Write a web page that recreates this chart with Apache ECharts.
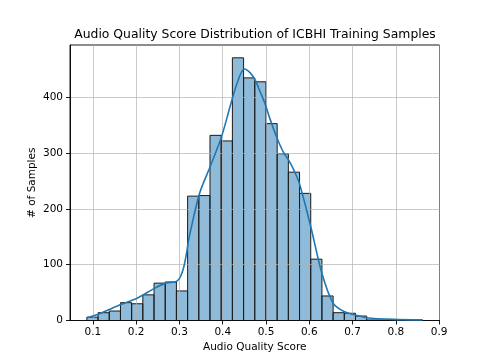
<!DOCTYPE html>
<html>
<head>
<meta charset="utf-8">
<script src="https://cdn.jsdelivr.net/npm/echarts@6/dist/echarts.min.js"></script>
<style>html,body{margin:0;padding:0;background:#fff}#c{width:482px;height:363px}</style>
</head>
<body>
<div id="c"></div>
<script>
// Histogram: 30 bins starting at binStart with width binWidth
const binStart = 0.086;
const binWidth = 0.02587;
const binCounts = [6, 14, 17, 32, 30, 46, 67, 69, 53, 223, 224, 332, 322, 471, 435, 428, 353, 299, 266, 228, 110, 44, 14, 13, 8, 1, 1, 0, 0, 1];
// KDE curve (x, count-scaled density)
const kdeX = [0.087, 0.114, 0.1655, 0.202, 0.243, 0.268, 0.293, 0.302, 0.310, 0.3176, 0.321, 0.346, 0.371, 0.397, 0.4175, 0.433, 0.4497, 0.4636, 0.475, 0.4866, 0.498, 0.509, 0.525, 0.540, 0.552, 0.563, 0.577, 0.6035, 0.629, 0.655, 0.680, 0.706, 0.733, 0.794, 0.862];
const kdeY = [5, 11.6, 29, 40, 58, 67, 70, 78, 96, 126, 144, 227, 276, 329, 385, 425, 451, 444, 431, 410, 388, 362, 328, 302, 288, 272, 246, 168, 85, 31, 16, 10, 5, 2, 1];
const xTicks = [0.1, 0.2, 0.3, 0.4, 0.5, 0.6, 0.7, 0.8, 0.9];
const yTicks = [0, 100, 200, 300, 400];

const histData = binCounts.map((c, i) => [binStart + i * binWidth, binStart + (i + 1) * binWidth, c]);
const kdeData = kdeX.map((x, i) => [x, kdeY[i]]);

const font = 'DejaVu Sans';
const chart = echarts.init(document.getElementById('c'), null, {renderer: 'canvas'});
chart.setOption({
  animation: false,
  backgroundColor: '#fff',
  title: {
    text: 'Audio Quality Score Distribution of ICBHI Training Samples',
    left: 250, top: 24, textAlign: 'center',
    textStyle: {fontFamily: font, fontSize: 12.4, fontWeight: 'normal', color: '#000'}
  },
  grid: {left: 70, right: 42.5, top: 45, bottom: 42.5, show: true, borderColor: '#000', borderWidth: 0.9, containLabel: false},
  xAxis: {
    type: 'value', min: 0.047, max: 0.901, z: 3,
    name: 'Audio Quality Score', nameLocation: 'middle', nameGap: 21.5, nameMoveOverlap: false,
    nameTextStyle: {fontFamily: font, fontSize: 10.5, color: '#000'},
    axisLine: {show: true, onZero: false, lineStyle: {color: '#000', width: 0.9}},
    axisTick: {show: true, length: 4, lineStyle: {color: '#000', width: 0.9}, customValues: xTicks},
    axisLabel: {fontFamily: font, fontSize: 10.5, color: '#000', margin: 6, customValues: xTicks, formatter: v => v.toFixed(1)},
    splitLine: {show: true, lineStyle: {color: 'rgba(176,176,176,0.75)', width: 0.9}}
  },
  yAxis: {
    type: 'value', min: 0, max: 494, z: 3,
    name: '# of Samples', nameLocation: 'middle', nameGap: 32, nameMoveOverlap: false,
    nameTextStyle: {fontFamily: font, fontSize: 10.5, color: '#000'},
    axisLine: {show: true, lineStyle: {color: '#000', width: 0.9}},
    axisTick: {show: true, length: 4, lineStyle: {color: '#000', width: 0.9}, customValues: yTicks},
    axisLabel: {fontFamily: font, fontSize: 10.5, color: '#000', margin: 7, customValues: yTicks},
    splitLine: {show: true, lineStyle: {color: 'rgba(176,176,176,0.75)', width: 0.9}}
  },
  series: [
    {
      type: 'custom', z: 2,
      data: histData,
      encode: {x: [0, 1], y: 2},
      renderItem: function (params, api) {
        const p0 = api.coord([api.value(0), api.value(2)]);
        const p1 = api.coord([api.value(1), 0]);
        return {
          type: 'rect',
          shape: {x: p0[0], y: p0[1], width: p1[0] - p0[0], height: p1[1] - p0[1]},
          style: {fill: 'rgba(31,119,180,0.5)', stroke: '#1a1a1a', lineWidth: 1}
        };
      }
    },
    {
      type: 'line', z: 4, data: kdeData, smooth: 0.3, showSymbol: false,
      lineStyle: {color: '#1f77b4', width: 1.6}
    }
  ]
});
</script>
</body>
</html>
